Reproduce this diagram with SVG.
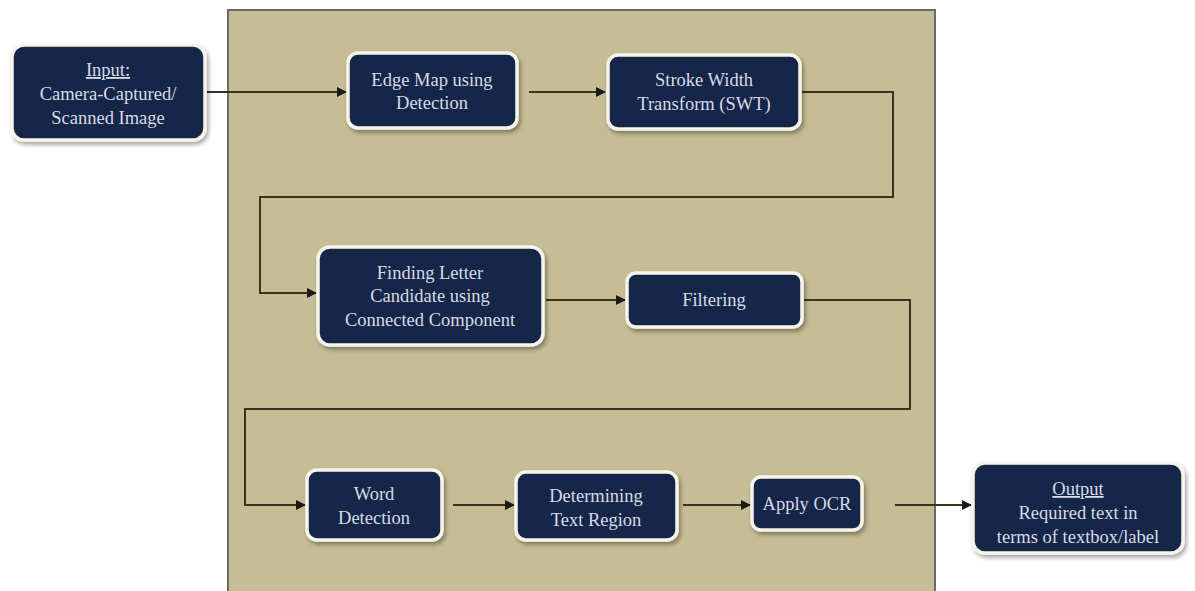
<svg xmlns="http://www.w3.org/2000/svg" width="1195" height="591" viewBox="0 0 1195 591">
<style>
.node rect{fill:#13284a;stroke:#f7f5ea;stroke-width:3.5;filter:url(#sh)}
.node text{font-family:"Liberation Serif",serif;font-size:18.5px;fill:#d6dbe6;text-anchor:middle}
.u{text-decoration:underline}
.conn{fill:none;stroke:#3b3220;stroke-width:2;marker-end:url(#ah)}
</style>
<defs>
<marker id="ah" viewBox="0 0 10 10" refX="9" refY="5" markerWidth="5" markerHeight="5" orient="auto" markerUnits="strokeWidth">
<path d="M0,0 L10,5 L0,10 z" fill="#1a1a1a"/>
</marker>
<filter id="sh" x="-10%" y="-10%" width="130%" height="140%">
<feDropShadow dx="2" dy="3" stdDeviation="2" flood-color="#000" flood-opacity="0.35"/>
</filter>
</defs>
<rect width="1195" height="591" fill="#ffffff"/>
<rect id="panel" x="228" y="10" width="707" height="590" fill="#c5bd95" stroke="#6e6a5c" stroke-width="2"/>
<g id="connectors">
<path class="conn" d="M207,92 H346"/>
<path class="conn" d="M529,92 H605"/>
<path class="conn" d="M802,92 H893 V197 H260 V293 H316"/>
<path class="conn" d="M546,300 H625"/>
<path class="conn" d="M804,300 H910 V409 H245 V505 H305"/>
<path class="conn" d="M453,505 H514"/>
<path class="conn" d="M683,505 H750"/>
<path class="conn" d="M895,505 H971"/>
</g>
<g id="input" class="node"><rect x="12" y="45" width="193" height="95" rx="12"/>
<text x="108" y="76" class="u">Input:</text><text x="108" y="100">Camera-Captured/</text><text x="108" y="124">Scanned Image</text></g>
<g id="edge" class="node"><rect x="348" y="53" width="169" height="75" rx="10"/>
<text x="432" y="86">Edge Map using</text><text x="432" y="109">Detection</text></g>
<g id="swt" class="node"><rect x="608" y="55" width="192" height="74" rx="10"/>
<text x="704" y="86">Stroke Width</text><text x="704" y="110">Transform (SWT)</text></g>
<g id="letter" class="node"><rect x="318" y="247" width="225" height="98" rx="12"/>
<text x="430" y="279">Finding Letter</text><text x="430" y="302">Candidate using</text><text x="430" y="326">Connected Component</text></g>
<g id="filtering" class="node"><rect x="627" y="273" width="175" height="54" rx="9"/>
<text x="714" y="306">Filtering</text></g>
<g id="word" class="node"><rect x="307" y="470" width="135" height="70" rx="10"/>
<text x="374" y="500">Word</text><text x="374" y="524">Detection</text></g>
<g id="region" class="node"><rect x="516" y="472" width="161" height="68" rx="10"/>
<text x="596" y="502">Determining</text><text x="596" y="526">Text Region</text></g>
<g id="ocr" class="node"><rect x="752" y="477" width="110" height="53" rx="9"/>
<text x="807" y="510">Apply OCR</text></g>
<g id="output" class="node"><rect x="973" y="463" width="210" height="90" rx="12"/>
<text x="1078" y="495" class="u">Output</text><text x="1078" y="519">Required text in</text><text x="1078" y="543">terms of textbox/label</text></g>
</svg>
